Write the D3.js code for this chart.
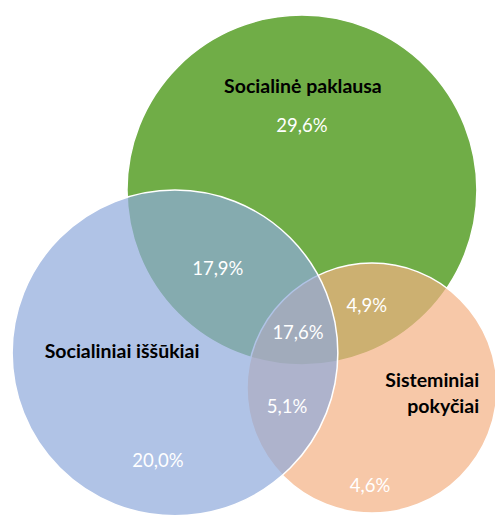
<!DOCTYPE html>
<html>
<head>
<meta charset="utf-8">
<script src="https://cdn.jsdelivr.net/npm/d3@7"></script>
<style>
  html, body { margin:0; padding:0; background:#fff; }
  svg text { font-family: Lato, "Open Sans", sans-serif; }
</style>
</head>
<body>
<script>
/////////////////////////////////////////////////////////////////////
// Venn diagram - three sets and their overlap shares (%)
/////////////////////////////////////////////////////////////////////

// set names (a name may break into two lines)
var setNames = [["Socialinė paklausa"], ["Sisteminiai", "pokyčiai"], ["Socialiniai iššūkiai"]];
// region labels and values (%)
var regionKeys = ["P", "PS", "PSI", "PI", "SI", "I", "S"];
var regionValues = [29.6, 4.9, 17.6, 17.9, 5.1, 20.0, 4.6];

// layout in a 0..100 unit space (circle centers / radii and label anchors)
var circleX = [61.0, 75.15, 35.35];
var circleY = [38.4, 78.4, 71.3];
var circleR = [35.35, 25.25, 32.9];
var circleFill = ["#70ad47", "#f4b183", "#8faadc"];
var circleOpacity = [1, 0.7, 0.7];

var nameX = [61.2, 96.8, 24.65];
var nameY = [18.8, 78.2, 72.3];
var nameAnchor = ["middle", "end", "middle"];

var regionX = [61.0, 74.1, 60.2, 44.0, 58.0, 31.9, 74.75];
var regionY = [26.7, 63.0, 68.5, 55.6, 83.4, 94.3, 99.4];

var width = 495, height = 516;
var sx = d3.scaleLinear().domain([0, 100]).range([0, width]);
var sy = d3.scaleLinear().domain([0, 100]).range([0, width]);
var sr = d3.scaleLinear().domain([0, 100]).range([0, width]);

var svg = d3.select("body").append("svg")
            .attr("width", width)
            .attr("height", height);

// draw circles (green first, then orange, blue on top)
var order = [0, 1, 2];
svg.selectAll("circle.set")
   .data(order)
   .enter().append("circle")
   .attr("class", "set")
   .attr("cx", function(i){ return sx(circleX[i]); })
   .attr("cy", function(i){ return sy(circleY[i]); })
   .attr("r", function(i){ return sr(circleR[i]); })
   .attr("fill", function(i){ return circleFill[i]; })
   .attr("fill-opacity", function(i){ return circleOpacity[i]; })
   .attr("stroke", "#fff")
   .attr("stroke-width", 1.5);

// set names
var fmt = function(v){ return d3.format(".1f")(v).replace(".", ",") + "%"; };

setNames.forEach(function(lines, i){
   var t = svg.append("text")
              .attr("text-anchor", nameAnchor[i])
              .attr("font-weight", "bold")
              .attr("font-size", 19.5)
              .attr("fill", "#000");
   lines.forEach(function(s, k){
      t.append("tspan")
       .attr("x", sx(nameX[i]))
       .attr("y", sy(nameY[i]) + k*26)
       .text(s);
   });
});

// region values
svg.selectAll("text.val")
   .data(regionValues)
   .enter().append("text")
   .attr("class", "val")
   .attr("x", function(d, i){ return sx(regionX[i]); })
   .attr("y", function(d, i){ return sy(regionY[i]); })
   .attr("text-anchor", "middle")
   .attr("font-size", 18.5)
   .attr("fill", "#fff")
   .text(fmt);
</script>
</body>
</html>
